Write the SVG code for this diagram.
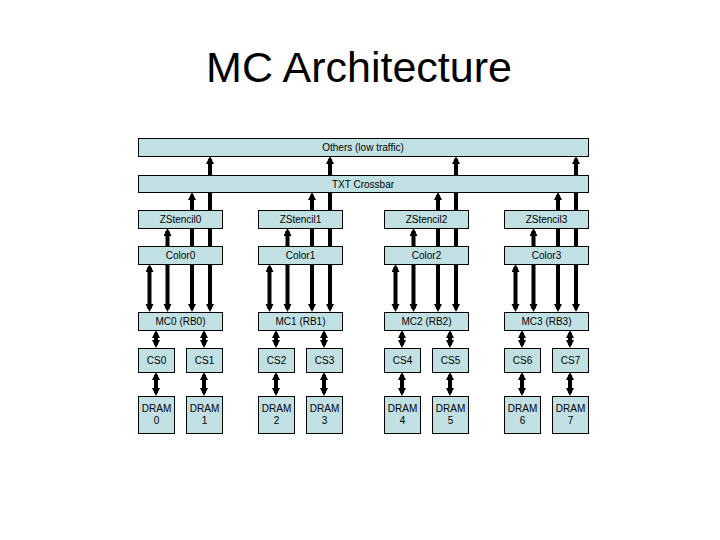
<svg xmlns="http://www.w3.org/2000/svg" width="720" height="540" viewBox="0 0 720 540">
<style>
.box{fill:#C0E0E4;stroke:#000;stroke-width:1}
.t{font-family:"Liberation Sans",Arial,sans-serif;font-size:10px;fill:#000;text-anchor:middle}
.title{font-family:"Liberation Sans",Arial,sans-serif;font-size:43px;fill:#000;text-anchor:middle}
.c{stroke:#000;stroke-width:4;fill:none;marker-start:url(#ah);marker-end:url(#ah)}
</style>
<defs>
<marker id="ah" markerUnits="userSpaceOnUse" markerWidth="9" markerHeight="9" refX="5" refY="4" orient="auto-start-reverse">
<path d="M0,0 L8,4 L0,8 z" fill="#000"/>
</marker>
</defs>
<rect width="720" height="540" fill="#fff"/>
<text class="title" x="359" y="82">MC Architecture</text>
<g id="connectors">
<line class="c" x1="149.5" y1="267" x2="149.5" y2="309"/>
<line class="c" x1="167.5" y1="231" x2="167.5" y2="309"/>
<line class="c" x1="192" y1="195" x2="192" y2="309"/>
<line class="c" x1="210" y1="159" x2="210" y2="309"/>
<line class="c" x1="156" y1="333" x2="156" y2="345"/>
<line class="c" x1="156" y1="375" x2="156" y2="393"/>
<line class="c" x1="204" y1="333" x2="204" y2="345"/>
<line class="c" x1="204" y1="375" x2="204" y2="393"/>

<line class="c" x1="269.5" y1="267" x2="269.5" y2="309"/>
<line class="c" x1="287.5" y1="231" x2="287.5" y2="309"/>
<line class="c" x1="312" y1="195" x2="312" y2="309"/>
<line class="c" x1="330" y1="159" x2="330" y2="309"/>
<line class="c" x1="276" y1="333" x2="276" y2="345"/>
<line class="c" x1="276" y1="375" x2="276" y2="393"/>
<line class="c" x1="324" y1="333" x2="324" y2="345"/>
<line class="c" x1="324" y1="375" x2="324" y2="393"/>

<line class="c" x1="395.5" y1="267" x2="395.5" y2="309"/>
<line class="c" x1="413.5" y1="231" x2="413.5" y2="309"/>
<line class="c" x1="438" y1="195" x2="438" y2="309"/>
<line class="c" x1="456" y1="159" x2="456" y2="309"/>
<line class="c" x1="402" y1="333" x2="402" y2="345"/>
<line class="c" x1="402" y1="375" x2="402" y2="393"/>
<line class="c" x1="450" y1="333" x2="450" y2="345"/>
<line class="c" x1="450" y1="375" x2="450" y2="393"/>

<line class="c" x1="515.5" y1="267" x2="515.5" y2="309"/>
<line class="c" x1="533.5" y1="231" x2="533.5" y2="309"/>
<line class="c" x1="558" y1="195" x2="558" y2="309"/>
<line class="c" x1="576" y1="159" x2="576" y2="309"/>
<line class="c" x1="522" y1="333" x2="522" y2="345"/>
<line class="c" x1="522" y1="375" x2="522" y2="393"/>
<line class="c" x1="570" y1="333" x2="570" y2="345"/>
<line class="c" x1="570" y1="375" x2="570" y2="393"/>
</g>
<g id="others"><rect class="box" x="138.5" y="138.5" width="450" height="18"/><text class="t" x="363" y="151">Others (low traffic)</text></g>
<g id="txt"><rect class="box" x="138.5" y="175.5" width="450" height="17"/><text class="t" x="363" y="187.5">TXT Crossbar</text></g>

<g id="zstencil0"><rect class="box" x="138.5" y="210.5" width="84" height="18"/><text class="t" x="180.5" y="223">ZStencil0</text></g>
<g id="zstencil1"><rect class="box" x="258.5" y="210.5" width="84" height="18"/><text class="t" x="300.5" y="223">ZStencil1</text></g>
<g id="zstencil2"><rect class="box" x="384.5" y="210.5" width="84" height="18"/><text class="t" x="426.5" y="223">ZStencil2</text></g>
<g id="zstencil3"><rect class="box" x="504.5" y="210.5" width="84" height="18"/><text class="t" x="546.5" y="223">ZStencil3</text></g>

<g id="color0"><rect class="box" x="138.5" y="246.5" width="84" height="18"/><text class="t" x="180.5" y="259">Color0</text></g>
<g id="color1"><rect class="box" x="258.5" y="246.5" width="84" height="18"/><text class="t" x="300.5" y="259">Color1</text></g>
<g id="color2"><rect class="box" x="384.5" y="246.5" width="84" height="18"/><text class="t" x="426.5" y="259">Color2</text></g>
<g id="color3"><rect class="box" x="504.5" y="246.5" width="84" height="18"/><text class="t" x="546.5" y="259">Color3</text></g>

<g id="mc0"><rect class="box" x="138.5" y="312.5" width="84" height="18"/><text class="t" x="180.5" y="325">MC0 (RB0)</text></g>
<g id="mc1"><rect class="box" x="258.5" y="312.5" width="84" height="18"/><text class="t" x="300.5" y="325">MC1 (RB1)</text></g>
<g id="mc2"><rect class="box" x="384.5" y="312.5" width="84" height="18"/><text class="t" x="426.5" y="325">MC2 (RB2)</text></g>
<g id="mc3"><rect class="box" x="504.5" y="312.5" width="84" height="18"/><text class="t" x="546.5" y="325">MC3 (RB3)</text></g>

<g id="cs0"><rect class="box" x="138.5" y="348.5" width="36" height="24"/><text class="t" x="156.5" y="364">CS0</text></g>
<g id="cs1"><rect class="box" x="186.5" y="348.5" width="36" height="24"/><text class="t" x="204.5" y="364">CS1</text></g>
<g id="cs2"><rect class="box" x="258.5" y="348.5" width="36" height="24"/><text class="t" x="276.5" y="364">CS2</text></g>
<g id="cs3"><rect class="box" x="306.5" y="348.5" width="36" height="24"/><text class="t" x="324.5" y="364">CS3</text></g>
<g id="cs4"><rect class="box" x="384.5" y="348.5" width="36" height="24"/><text class="t" x="402.5" y="364">CS4</text></g>
<g id="cs5"><rect class="box" x="432.5" y="348.5" width="36" height="24"/><text class="t" x="450.5" y="364">CS5</text></g>
<g id="cs6"><rect class="box" x="504.5" y="348.5" width="36" height="24"/><text class="t" x="522.5" y="364">CS6</text></g>
<g id="cs7"><rect class="box" x="552.5" y="348.5" width="36" height="24"/><text class="t" x="570.5" y="364">CS7</text></g>

<g id="dram0"><rect class="box" x="138.5" y="396.5" width="36" height="37"/><text class="t" x="156.5" y="412">DRAM</text><text class="t" x="156.5" y="423.5">0</text></g>
<g id="dram1"><rect class="box" x="186.5" y="396.5" width="36" height="37"/><text class="t" x="204.5" y="412">DRAM</text><text class="t" x="204.5" y="423.5">1</text></g>
<g id="dram2"><rect class="box" x="258.5" y="396.5" width="36" height="37"/><text class="t" x="276.5" y="412">DRAM</text><text class="t" x="276.5" y="423.5">2</text></g>
<g id="dram3"><rect class="box" x="306.5" y="396.5" width="36" height="37"/><text class="t" x="324.5" y="412">DRAM</text><text class="t" x="324.5" y="423.5">3</text></g>
<g id="dram4"><rect class="box" x="384.5" y="396.5" width="36" height="37"/><text class="t" x="402.5" y="412">DRAM</text><text class="t" x="402.5" y="423.5">4</text></g>
<g id="dram5"><rect class="box" x="432.5" y="396.5" width="36" height="37"/><text class="t" x="450.5" y="412">DRAM</text><text class="t" x="450.5" y="423.5">5</text></g>
<g id="dram6"><rect class="box" x="504.5" y="396.5" width="36" height="37"/><text class="t" x="522.5" y="412">DRAM</text><text class="t" x="522.5" y="423.5">6</text></g>
<g id="dram7"><rect class="box" x="552.5" y="396.5" width="36" height="37"/><text class="t" x="570.5" y="412">DRAM</text><text class="t" x="570.5" y="423.5">7</text></g>
</svg>
